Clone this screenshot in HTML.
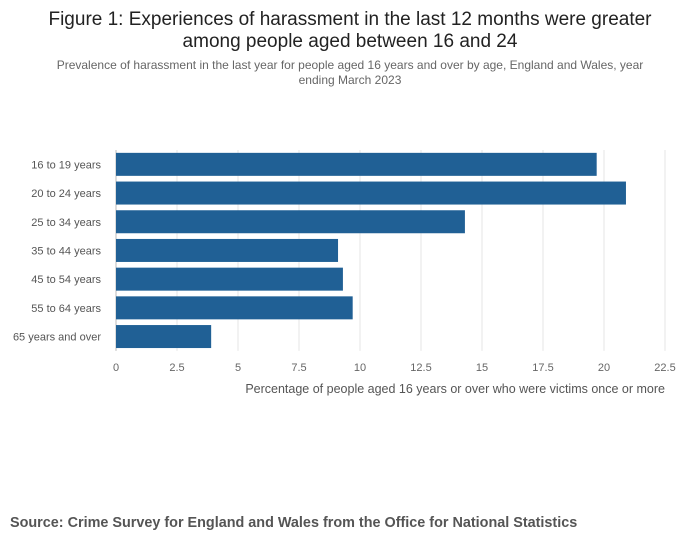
<!DOCTYPE html>
<html><head><meta charset="utf-8"><style>
body{margin:0;background:#fff;font-family:"Liberation Sans",sans-serif;}
svg text{font-family:"Liberation Sans",sans-serif;}
</style></head><body>
<svg width="700" height="549">
<text x="350" y="25" text-anchor="middle" font-size="19" fill="#222">Figure 1: Experiences of harassment in the last 12 months were greater</text>
<text x="350" y="47" text-anchor="middle" font-size="19" fill="#222">among people aged between 16 and 24</text>
<text x="350" y="69" text-anchor="middle" font-size="12" fill="#666">Prevalence of harassment in the last year for people aged 16 years and over by age, England and Wales, year</text>
<text x="350" y="84" text-anchor="middle" font-size="12" fill="#666">ending March 2023</text>
<g id="grid"></g><g id="bars"></g><g id="labels"></g>
<text x="665" y="393" text-anchor="end" font-size="12.5" fill="#555">Percentage of people aged 16 years or over who were victims once or more</text>
<text x="10" y="527" font-size="14.4" font-weight="bold" fill="#555">Source: Crime Survey for England and Wales from the Office for National Statistics</text>
</svg>
<script>
const categories=["16 to 19 years","20 to 24 years","25 to 34 years","35 to 44 years","45 to 54 years","55 to 64 years","65 years and over"];
const values=[19.7,20.9,14.3,9.1,9.3,9.7,3.9];
const ticks=[0,2.5,5,7.5,10,12.5,15,17.5,20,22.5];
const tickLabels=["0","2.5","5","7.5","10","12.5","15","17.5","20","22.5"];
const NS="http://www.w3.org/2000/svg";
const x0=116,x1=665,yTop=150,band=28.7;
const xs=v=>x0+(v/22.5)*(x1-x0);
const grid=document.getElementById('grid'),bars=document.getElementById('bars'),labels=document.getElementById('labels');
function mk(tag,attrs,parent){const e=document.createElementNS(NS,tag);for(const k in attrs)e.setAttribute(k,attrs[k]);parent.appendChild(e);return e;}
ticks.forEach((t,i)=>{
 const l=mk('line',{x1:xs(t),x2:xs(t),y1:yTop,y2:yTop+band*categories.length,stroke:t===0?'#bbb':'#e6e6e6','stroke-width':1},grid);
 
 
 const tx=mk('text',{x:xs(t),y:371,'text-anchor':'middle','font-size':11,fill:'#666'},labels);
 tx.textContent=tickLabels[i];
 
 
});
categories.forEach((c,i)=>{
 const yc=yTop+band*i+band/2;
 const r=mk('rect',{x:xs(0),y:yc-11.5,width:xs(values[i])-xs(0),height:23,fill:'#206095'},bars);
 
 
 const tx=mk('text',{x:101,y:yc+4,'text-anchor':'end','font-size':11,fill:'#555'},labels);
 tx.textContent=c;
 
 
});
</script>
</body></html>
